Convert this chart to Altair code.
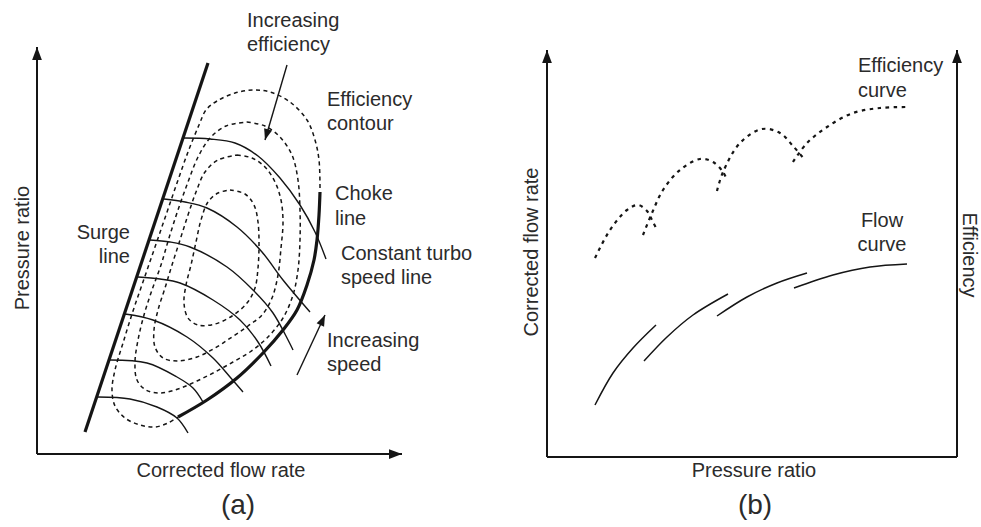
import math
import altair as alt
import pandas as pd

INK = "#151515"
TXT = "#2b2b2b"
FONT = "Liberation Sans"

# ---------- Panel (a): compressor map (schematic units, origin at the axes corner)
A_XD = [-37, 453]
A_YD = [-73, 454]
a_axes = [[(0, 0), (0, 407)], [(0, 0), (365, 0)]]
surge_line = [(48, 22), (171, 391)]
choke_line = [(141, 37), (170, 54), (200, 76), (226, 101), (246, 124), (260, 144),
              (270, 169), (277, 194), (280, 214), (282, 239), (283, 262)]
speed_lines = [
    [(147, 316), (173, 315), (198, 311), (221, 298), (243, 276), (263, 249), (278, 222), (289, 195)],
    [(127, 255), (148, 252), (170, 246), (200, 227), (225, 202), (246, 174), (273, 142)],
    [(113, 214), (133, 212), (153, 207), (190, 187), (216, 164), (236, 141), (256, 104)],
    [(101, 177), (123, 175), (143, 171), (176, 154), (203, 134), (221, 112), (234, 88)],
    [(88, 140), (116, 134), (150, 117), (176, 96), (193, 77), (206, 62)],
    [(73, 94), (110, 91), (140, 77), (156, 66), (166, 52)],
    [(61, 57), (93, 55), (120, 47), (140, 36), (151, 21)],
]
eff_contours = [
    [(283, 266), (282, 294), (278, 314), (270, 334), (253, 352), (233, 362), (216, 364),
     (198, 361), (180, 353), (169, 344), (162, 329), (151, 302), (140, 271), (129, 239),
     (118, 207), (107, 175), (96, 143), (86, 111), (78, 84), (75, 64), (78, 48), (88, 36),
     (103, 29), (118, 27), (131, 31), (141, 37)],
    [(210, 332), (228, 328), (243, 317), (255, 299), (261, 274), (263, 244), (263, 214),
     (261, 184), (256, 159), (246, 136), (230, 116), (213, 102), (196, 92), (178, 82),
     (160, 73), (141, 65), (123, 61), (109, 64), (100, 74), (98, 92), (101, 114), (107, 139),
     (115, 164), (124, 189), (132, 216), (141, 244), (151, 272), (161, 297), (173, 316),
     (189, 328), (210, 332)],
    [(200, 299), (215, 296), (228, 287), (238, 272), (244, 254), (246, 232), (244, 206),
     (241, 179), (235, 156), (225, 139), (211, 128), (195, 117), (178, 106), (160, 97),
     (141, 93), (126, 96), (118, 107), (117, 124), (121, 144), (128, 166), (135, 189),
     (143, 214), (151, 239), (159, 262), (168, 282), (181, 294), (200, 299)],
    [(193, 264), (208, 260), (217, 249), (221, 232), (222, 209), (221, 186), (218, 166),
     (210, 151), (195, 138), (178, 130), (161, 129), (151, 136), (147, 151), (149, 169),
     (154, 189), (159, 212), (164, 234), (171, 252), (181, 261), (193, 264)],
]
a_arrows = [[(250, 389), (228, 314)], [(260, 79), (288, 139)]]

a_left_text = ["Increasing", "efficiency", "Efficiency", "contour", "Choke", "line",
               "Constant turbo", "speed line", "Increasing", "speed"]
a_left_x = [210, 210, 290, 290, 298, 298, 304, 304, 290, 290]
a_left_y = [427, 403, 348, 324, 254, 229, 194, 170, 107, 83]
a_right_text = ["Surge", "line"]
a_right_x = [93, 93]
a_right_y = [215, 191]
a_xtitle = ("Corrected flow rate", 184, -23)
a_ytitle = ("Pressure ratio", -8, 206)
a_label = ("(a)", 201, -60)

# ---------- Panel (b): flow and efficiency vs pressure ratio
B_XD = [-57, 434]
B_YD = [-70, 457]
b_axes = [[(0, 0), (0, 407)], [(0, 0), (410, 0)], [(410, 0), (410, 407)]]
flow_curve = [
    [(48, 52), (66, 84), (86, 109), (109, 132)],
    [(97, 96), (120, 120), (146, 142), (181, 163)],
    [(170, 141), (200, 160), (230, 174), (260, 184)],
    [(247, 169), (286, 182), (323, 190), (360, 193)],
]
eff_curve = [
    [(48, 199), (63, 227), (80, 247), (91, 252), (100, 246), (105, 237), (110, 227)],
    [(96, 222), (105, 244), (116, 267), (133, 287), (153, 298), (166, 295), (176, 285), (180, 277)],
    [(170, 266), (176, 285), (193, 314), (215, 328), (233, 324), (246, 311), (258, 297)],
    [(246, 295), (260, 314), (280, 330), (306, 344), (333, 349), (360, 350)],
]
b_left_text = ["Efficiency", "curve"]
b_left_x = [311, 311]
b_left_y = [385, 360]
b_center_text = ["Flow", "curve"]
b_center_x = [335, 335]
b_center_y = [230, 206]
b_xtitle = ("Pressure ratio", 207, -20)
b_ytitle = ("Corrected flow rate", -9, 205)
b_y2title = ("Efficiency", 416, 202)
b_label = ("(b)", 208, -57)

HEAD = "M0,-1L0.75,1L-0.75,1Z"


def lines_df(curves):
    rows = []
    for k, pts in enumerate(curves):
        for i, (x, y) in enumerate(pts):
            rows.append({"id": k, "i": i, "x": x, "y": y})
    return pd.DataFrame(rows)


def heads_df(arrows, length):
    rows = []
    for pts in arrows:
        (x0, y0), (x1, y1) = pts[-2], pts[-1]
        d = math.hypot(x1 - x0, y1 - y0)
        ux, uy = (x1 - x0) / d, (y1 - y0) / d
        ang = math.degrees(math.atan2(x1 - x0, y1 - y0)) % 360
        rows.append({"x": x1 - ux * length / 2, "y": y1 - uy * length / 2, "ang": ang})
    return pd.DataFrame(rows)


def enc(xd, yd):
    return dict(
        x=alt.X("x:Q", scale=alt.Scale(domain=xd, nice=False, zero=False), axis=None),
        y=alt.Y("y:Q", scale=alt.Scale(domain=yd, nice=False, zero=False), axis=None),
    )


def line_layer(curves, xd, yd, width, dash=None, interp="linear"):
    kw = dict(color=INK, strokeWidth=width, interpolate=interp, strokeCap="butt")
    if dash:
        kw["strokeDash"] = dash
    return alt.Chart(lines_df(curves)).mark_line(**kw).encode(
        **enc(xd, yd), detail="id:N", order="i:Q")


def head_layer(arrows, xd, yd, length):
    return alt.Chart(heads_df(arrows, length)).mark_point(
        shape=HEAD, filled=True, opacity=1, color=INK, strokeWidth=0, size=length * length
    ).encode(**enc(xd, yd), angle=alt.Angle("ang:Q", scale=None))


def text_layer(texts, xs, ys, xd, yd, align="left", angle=0, size=20):
    df = pd.DataFrame({"t": texts, "x": xs, "y": ys})
    return alt.Chart(df).mark_text(
        align=align, baseline="alphabetic", font=FONT, fontSize=size, color=TXT, angle=angle
    ).encode(**enc(xd, yd), text="t:N")


def one(item, xd, yd, align="center", angle=0, size=20):
    t, x, y = item
    return text_layer([t], [x], [y], xd, yd, align=align, angle=angle, size=size)


panel_a = alt.layer(
    line_layer(eff_contours, A_XD, A_YD, 1.5, dash=[4, 3.5], interp="catmull-rom"),
    line_layer(speed_lines, A_XD, A_YD, 1.4, interp="catmull-rom"),
    line_layer([surge_line], A_XD, A_YD, 3.2),
    line_layer([choke_line], A_XD, A_YD, 3.2, interp="catmull-rom"),
    line_layer(a_axes, A_XD, A_YD, 2),
    head_layer(a_axes, A_XD, A_YD, 13),
    line_layer(a_arrows, A_XD, A_YD, 1.4),
    head_layer(a_arrows, A_XD, A_YD, 11),
    text_layer(a_left_text, a_left_x, a_left_y, A_XD, A_YD, align="left"),
    text_layer(a_right_text, a_right_x, a_right_y, A_XD, A_YD, align="right"),
    one(a_xtitle, A_XD, A_YD),
    one(a_ytitle, A_XD, A_YD, angle=270),
    one(a_label, A_XD, A_YD, size=28),
).properties(width=490, height=527)

panel_b = alt.layer(
    line_layer(eff_curve, B_XD, B_YD, 2.2, dash=[3.5, 4.5], interp="catmull-rom"),
    line_layer(flow_curve, B_XD, B_YD, 1.5, interp="catmull-rom"),
    line_layer(b_axes, B_XD, B_YD, 2),
    head_layer([b_axes[0], b_axes[2]], B_XD, B_YD, 13),
    text_layer(b_left_text, b_left_x, b_left_y, B_XD, B_YD, align="left"),
    text_layer(b_center_text, b_center_x, b_center_y, B_XD, B_YD, align="center"),
    one(b_xtitle, B_XD, B_YD),
    one(b_ytitle, B_XD, B_YD, angle=270),
    one(b_y2title, B_XD, B_YD, angle=90),
    one(b_label, B_XD, B_YD, size=28),
).properties(width=491, height=527)

chart = alt.hconcat(panel_a, panel_b, spacing=0, bounds="flush").properties(
    padding=0
).configure_view(strokeWidth=0)

chart.save("out.html", embed_options={"renderer": "svg", "actions": False})
